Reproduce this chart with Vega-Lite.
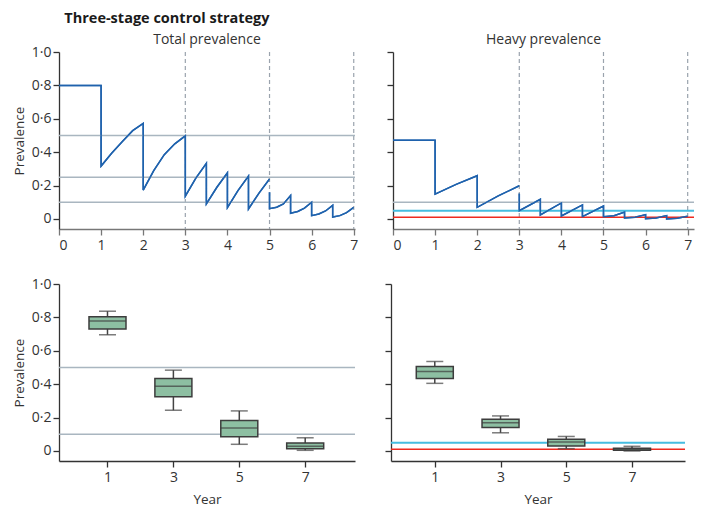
{
  "$schema": "https://vega.github.io/schema/vega-lite/v6.json",
  "padding": {"left": 12, "top": 10, "right": 5, "bottom": 5},
  "background": "white",
  "title": {"text": "Three-stage control strategy", "anchor": "start", "frame": "bounds", "fontSize": 14.5, "fontWeight": "bold", "font": "Open Sans", "color": "#1a1a1a", "dx": 52, "offset": 7},
  "config": {
    "font": "Open Sans",
    "view": {"stroke": null},
    "axis": {"domainColor": "#333", "tickColor": "#333", "labelColor": "#333", "titleColor": "#333", "labelFontSize": 14, "titleFontSize": 13.5, "titleFontWeight": "normal", "grid": false, "tickSize": 6, "domainWidth": 1.3, "tickWidth": 1.3, "labelFont": "Open Sans", "titleFont": "Open Sans", "labelOverlap": false},
    "title": {"fontWeight": "normal", "fontSize": 14, "color": "#333", "font": "Open Sans"}
  },
  "datasets": {
    "total": [
      {"i": 1, "seg": "A", "t": 0, "p": 0.8},
      {"i": 2, "seg": "A", "t": 1, "p": 0.8},
      {"i": 3, "seg": "A", "t": 1, "p": 0.317},
      {"i": 4, "seg": "A", "t": 1.25, "p": 0.393},
      {"i": 5, "seg": "A", "t": 1.5, "p": 0.463},
      {"i": 6, "seg": "A", "t": 1.75, "p": 0.529},
      {"i": 7, "seg": "A", "t": 2, "p": 0.572},
      {"i": 8, "seg": "A", "t": 2, "p": 0.173},
      {"i": 9, "seg": "A", "t": 2.25, "p": 0.29},
      {"i": 10, "seg": "A", "t": 2.5, "p": 0.385},
      {"i": 11, "seg": "A", "t": 2.75, "p": 0.45},
      {"i": 12, "seg": "A", "t": 3, "p": 0.498},
      {"i": 13, "seg": "A", "t": 3, "p": 0.137},
      {"i": 14, "seg": "A", "t": 3.25, "p": 0.245},
      {"i": 15, "seg": "A", "t": 3.5, "p": 0.333},
      {"i": 16, "seg": "A", "t": 3.5, "p": 0.09},
      {"i": 17, "seg": "A", "t": 3.75, "p": 0.19},
      {"i": 18, "seg": "A", "t": 4, "p": 0.277},
      {"i": 19, "seg": "A", "t": 4, "p": 0.068},
      {"i": 20, "seg": "A", "t": 4.25, "p": 0.17},
      {"i": 21, "seg": "A", "t": 4.5, "p": 0.257},
      {"i": 22, "seg": "A", "t": 4.5, "p": 0.06},
      {"i": 23, "seg": "A", "t": 4.75, "p": 0.155},
      {"i": 24, "seg": "A", "t": 5, "p": 0.239},
      {"i": 25, "seg": "B", "t": 5, "p": 0.16},
      {"i": 26, "seg": "B", "t": 5, "p": 0.062},
      {"i": 27, "seg": "B", "t": 5.17, "p": 0.07},
      {"i": 28, "seg": "B", "t": 5.33, "p": 0.09},
      {"i": 29, "seg": "B", "t": 5.5, "p": 0.14},
      {"i": 30, "seg": "B", "t": 5.5, "p": 0.034},
      {"i": 31, "seg": "B", "t": 5.67, "p": 0.045},
      {"i": 32, "seg": "B", "t": 5.83, "p": 0.065},
      {"i": 33, "seg": "B", "t": 6, "p": 0.1},
      {"i": 34, "seg": "B", "t": 6, "p": 0.02},
      {"i": 35, "seg": "B", "t": 6.17, "p": 0.03},
      {"i": 36, "seg": "B", "t": 6.33, "p": 0.048},
      {"i": 37, "seg": "B", "t": 6.5, "p": 0.082},
      {"i": 38, "seg": "B", "t": 6.5, "p": 0.012},
      {"i": 39, "seg": "B", "t": 6.67, "p": 0.02},
      {"i": 40, "seg": "B", "t": 6.83, "p": 0.038},
      {"i": 41, "seg": "B", "t": 7, "p": 0.07}
    ],
    "heavy": [
      {"i": 1, "seg": "A", "t": 0, "p": 0.472},
      {"i": 2, "seg": "A", "t": 1, "p": 0.472},
      {"i": 3, "seg": "A", "t": 1, "p": 0.149},
      {"i": 4, "seg": "A", "t": 1.5, "p": 0.207},
      {"i": 5, "seg": "A", "t": 2, "p": 0.259},
      {"i": 6, "seg": "A", "t": 2, "p": 0.07},
      {"i": 7, "seg": "A", "t": 2.5, "p": 0.138},
      {"i": 8, "seg": "A", "t": 3, "p": 0.199},
      {"i": 9, "seg": "B", "t": 3, "p": 0.153},
      {"i": 10, "seg": "B", "t": 3, "p": 0.05},
      {"i": 11, "seg": "B", "t": 3.5, "p": 0.118},
      {"i": 12, "seg": "B", "t": 3.5, "p": 0.024},
      {"i": 13, "seg": "B", "t": 4, "p": 0.096},
      {"i": 14, "seg": "B", "t": 4, "p": 0.018},
      {"i": 15, "seg": "B", "t": 4.5, "p": 0.084},
      {"i": 16, "seg": "B", "t": 4.5, "p": 0.014},
      {"i": 17, "seg": "B", "t": 5, "p": 0.078},
      {"i": 18, "seg": "B", "t": 5, "p": 0.014},
      {"i": 19, "seg": "B", "t": 5.25, "p": 0.02},
      {"i": 20, "seg": "B", "t": 5.5, "p": 0.042},
      {"i": 21, "seg": "B", "t": 5.5, "p": 0.006},
      {"i": 22, "seg": "B", "t": 5.75, "p": 0.011},
      {"i": 23, "seg": "B", "t": 6, "p": 0.026},
      {"i": 24, "seg": "B", "t": 6, "p": 0.002},
      {"i": 25, "seg": "B", "t": 6.25, "p": 0.006},
      {"i": 26, "seg": "B", "t": 6.5, "p": 0.02},
      {"i": 27, "seg": "B", "t": 6.5, "p": 0.0},
      {"i": 28, "seg": "B", "t": 6.75, "p": 0.004},
      {"i": 29, "seg": "B", "t": 7, "p": 0.016}
    ],
    "totalBox": [
      {"year": 1, "lo": 0.696, "q1": 0.73, "med": 0.778, "q3": 0.804, "hi": 0.837},
      {"year": 3, "lo": 0.244, "q1": 0.325, "med": 0.387, "q3": 0.434, "hi": 0.484},
      {"year": 5, "lo": 0.04, "q1": 0.085, "med": 0.137, "q3": 0.183, "hi": 0.24},
      {"year": 7, "lo": 0.004, "q1": 0.014, "med": 0.028, "q3": 0.048, "hi": 0.079}
    ],
    "heavyBox": [
      {"year": 1, "lo": 0.405, "q1": 0.434, "med": 0.476, "q3": 0.506, "hi": 0.536},
      {"year": 3, "lo": 0.109, "q1": 0.141, "med": 0.169, "q3": 0.19, "hi": 0.21},
      {"year": 5, "lo": 0.014, "q1": 0.03, "med": 0.054, "q3": 0.071, "hi": 0.087},
      {"year": 7, "lo": 0.0, "q1": 0.004, "med": 0.01, "q3": 0.016, "hi": 0.028}
    ]
  },
  "spacing": 25,
  "vconcat": [
    {
      "spacing": 28,
      "hconcat": [
        {
          "width": 296, "height": 177,
          "title": {"text": "Total prevalence", "offset": -2},
          "encoding": {
            "y": {"field": "p", "type": "quantitative", "scale": {"domain": [-0.06, 1.0], "nice": false, "zero": false}, "axis": {"values": [0, 0.2, 0.4, 0.6, 0.8, 1.0], "title": "Prevalence", "labelPadding": 2, "titlePadding": 5, "labelOverlap": false, "labelFlush": false, "labelExpr": "datum.value == 0 ? '0' : replace(format(datum.value, '.1f'), '.', '·')"}}
          },
          "layer": [
            {"data": {"name": "total"}, "mark": {"type": "line", "color": "#1f62ad", "strokeWidth": 1.5}, "encoding": {
              "x": {"field": "t", "type": "quantitative", "scale": {"domain": [0, 7.03], "nice": false, "zero": false}, "axis": {"values": [0, 1, 2, 3, 4, 5, 6, 7], "title": null, "domainColor": "#777", "tickColor": "#777", "labelPadding": 3, "labelOverlap": false}},
              "detail": {"field": "seg"},
              "order": {"field": "i", "type": "quantitative"}
            }},
            {"data": {"values": [{"v": 3}, {"v": 5}, {"v": 7}]}, "mark": {"type": "rule", "color": "#9aa3ad", "strokeDash": [4, 3], "strokeWidth": 1.2}, "encoding": {"x": {"field": "v", "type": "quantitative"}, "y": null}},
            {"data": {"values": [{"p": 0.5}, {"p": 0.25}, {"p": 0.1}]}, "mark": {"type": "rule", "color": "#a9b6c0", "strokeWidth": 1.5}, "encoding": {}},
            {"data": {"name": "total"}, "mark": {"type": "line", "color": "#1f62ad", "strokeWidth": 1.5}, "encoding": {
              "x": {"field": "t", "type": "quantitative"},
              "detail": {"field": "seg"},
              "order": {"field": "i", "type": "quantitative"}
            }}
          ]
        },
        {
          "width": 301, "height": 177,
          "title": {"text": "Heavy prevalence", "offset": 4},
          "encoding": {
            "y": {"field": "p", "type": "quantitative", "scale": {"domain": [-0.06, 1.0], "nice": false, "zero": false}, "axis": {"values": [0, 0.2, 0.4, 0.6, 0.8, 1.0], "title": null, "labels": false}}
          },
          "layer": [
            {"data": {"name": "heavy"}, "mark": {"type": "line", "color": "#1f62ad", "strokeWidth": 1.5}, "encoding": {
              "x": {"field": "t", "type": "quantitative", "scale": {"domain": [0, 7.15], "nice": false, "zero": false}, "axis": {"values": [0, 1, 2, 3, 4, 5, 6, 7], "title": null, "domainColor": "#777", "tickColor": "#777", "labelPadding": 3, "labelOverlap": false}},
              "detail": {"field": "seg"},
              "order": {"field": "i", "type": "quantitative"}
            }},
            {"data": {"values": [{"v": 3}, {"v": 5}, {"v": 7}]}, "mark": {"type": "rule", "color": "#9aa3ad", "strokeDash": [4, 3], "strokeWidth": 1.2}, "encoding": {"x": {"field": "v", "type": "quantitative"}, "y": null}},
            {"data": {"values": [{"p": 0.1}]}, "mark": {"type": "rule", "color": "#a9b6c0", "strokeWidth": 1.5}, "encoding": {}},
            {"data": {"values": [{"p": 0.05}]}, "mark": {"type": "rule", "color": "#45bde0", "strokeWidth": 2}, "encoding": {}},
            {"data": {"values": [{"p": 0.01}]}, "mark": {"type": "rule", "color": "#ee2a1f", "strokeWidth": 1.5}, "encoding": {}},
            {"data": {"name": "heavy"}, "mark": {"type": "line", "color": "#1f62ad", "strokeWidth": 1.5}, "encoding": {
              "x": {"field": "t", "type": "quantitative"},
              "detail": {"field": "seg"},
              "order": {"field": "i", "type": "quantitative"}
            }}
          ]
        }
      ]
    },
    {
      "spacing": 28,
      "hconcat": [
        {
          "width": 296, "height": 177,
          "encoding": {
            "x": {"field": "year", "type": "quantitative", "scale": {"domain": [-0.32, 8.36], "nice": false, "zero": false}, "axis": {"values": [1, 3, 5, 7], "title": "Year", "labelPadding": 3, "titlePadding": 8, "labelOverlap": false}},
            "y": {"field": "v", "type": "quantitative", "scale": {"domain": [-0.06, 1.0], "nice": false, "zero": false}, "axis": {"values": [0, 0.2, 0.4, 0.6, 0.8, 1.0], "title": "Prevalence", "labelPadding": 2, "titlePadding": 5, "labelOverlap": false, "labelFlush": false, "labelExpr": "datum.value == 0 ? '0' : replace(format(datum.value, '.1f'), '.', '·')"}}
          },
          "layer": [
            {"data": {"values": [{"v": 0.5}, {"v": 0.1}]}, "mark": {"type": "rule", "color": "#a9b6c0", "strokeWidth": 1.5}, "encoding": {"x": null}},
            {"data": {"name": "totalBox"}, "transform": [{"fold": ["lo"], "as": ["stat", "v"]}], "mark": {"type": "rule", "color": "#444", "strokeWidth": 1.5}, "encoding": {"y2": {"field": "hi"}}},
            {"data": {"name": "totalBox"}, "transform": [{"fold": ["lo", "hi"], "as": ["stat", "v"]}], "mark": {"type": "tick", "orient": "horizontal", "color": "#444", "size": 17, "thickness": 1.5}, "encoding": {}},
            {"data": {"name": "totalBox"}, "transform": [{"fold": ["q1"], "as": ["stat", "v"]}], "mark": {"type": "bar", "size": 37, "fill": "#8dbfa2", "stroke": "#3d3d3d", "strokeWidth": 1.5}, "encoding": {"y2": {"field": "q3"}}},
            {"data": {"name": "totalBox"}, "transform": [{"fold": ["med"], "as": ["stat", "v"]}], "mark": {"type": "tick", "orient": "horizontal", "color": "#3d3d3d", "size": 37, "thickness": 1.5}, "encoding": {}}
          ]
        },
        {
          "width": 294, "height": 177,
          "encoding": {
            "x": {"field": "year", "type": "quantitative", "scale": {"domain": [-0.18, 8.46], "nice": false, "zero": false}, "axis": {"values": [1, 3, 5, 7], "title": "Year", "labelPadding": 3, "titlePadding": 8, "labelOverlap": false}},
            "y": {"field": "v", "type": "quantitative", "scale": {"domain": [-0.06, 1.0], "nice": false, "zero": false}, "axis": {"values": [0, 0.2, 0.4, 0.6, 0.8, 1.0], "title": null, "labels": false}}
          },
          "layer": [
            {"data": {"values": [{"v": 0.05}]}, "mark": {"type": "rule", "color": "#45bde0", "strokeWidth": 2}, "encoding": {"x": null}},
            {"data": {"values": [{"v": 0.01}]}, "mark": {"type": "rule", "color": "#ee2a1f", "strokeWidth": 1.5}, "encoding": {"x": null}},
            {"data": {"name": "heavyBox"}, "transform": [{"fold": ["lo"], "as": ["stat", "v"]}], "mark": {"type": "rule", "color": "#444", "strokeWidth": 1.5}, "encoding": {"y2": {"field": "hi"}}},
            {"data": {"name": "heavyBox"}, "transform": [{"fold": ["lo", "hi"], "as": ["stat", "v"]}], "mark": {"type": "tick", "orient": "horizontal", "color": "#444", "size": 17, "thickness": 1.5}, "encoding": {}},
            {"data": {"name": "heavyBox"}, "transform": [{"fold": ["q1"], "as": ["stat", "v"]}], "mark": {"type": "bar", "size": 37, "fill": "#8dbfa2", "stroke": "#3d3d3d", "strokeWidth": 1.5}, "encoding": {"y2": {"field": "q3"}}},
            {"data": {"name": "heavyBox"}, "transform": [{"fold": ["med"], "as": ["stat", "v"]}], "mark": {"type": "tick", "orient": "horizontal", "color": "#3d3d3d", "size": 37, "thickness": 1.5}, "encoding": {}}
          ]
        }
      ]
    }
  ]
}
